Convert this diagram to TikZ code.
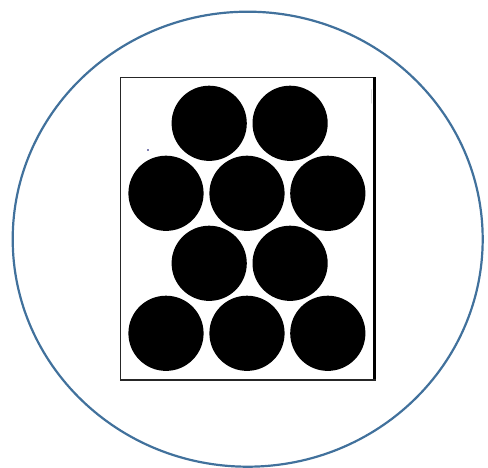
\documentclass[tikz,border=0pt]{standalone}
\usepackage{tikz}
\usetikzlibrary{positioning, calc}
\definecolor{marco}{HTML}{41719C}
\tikzset{
  contorno/.style={draw=marco, line width=2.2pt},
  hoja/.style={draw=black!85, line width=1.1pt, fill=white},
  bola/.style={fill=black}
}

\begin{document}
\begin{tikzpicture}[x=1pt, y=-1pt]
        \useasboundingbox (0,0) rectangle (488,468);

        % 1. Elipse exterior
        \draw[contorno] (247.7,239.2) ellipse [x radius=235, y radius=227.5];

        % 2. Hoja rectangular
        \draw[hoja] (120.3,77.3) rectangle (375.2,380.3);
        % Borde derecho e inferior mas gruesos
        \draw[black, line width=2.6pt] (374.7,77.3) -- (374.7,381);
        \draw[black!85, line width=1.8pt] (120.3,380) -- (375.8,380);
        % Marca gris junto al borde derecho
        \draw[black!15, line width=1.5pt, line cap=round] (371.5,90) -- (371.5,103);
        % Punto suelto
        \fill[blue!40!black] (148,150) circle [radius=0.8];

        % 3. Filas de bolas (2-3-2-3)
        \foreach \x in {209.2, 290.1} {
            \fill[bola] (\x,123.3) circle [radius=37.6];
            \fill[bola] (\x,263.3) circle [radius=37.6];
        }
        \foreach \x in {166.0, 247.0, 327.8} {
            \fill[bola] (\x,193.3) circle [radius=37.6];
            \fill[bola] (\x,333.3) circle [radius=37.6];
        }

    \end{tikzpicture}
\end{document}
